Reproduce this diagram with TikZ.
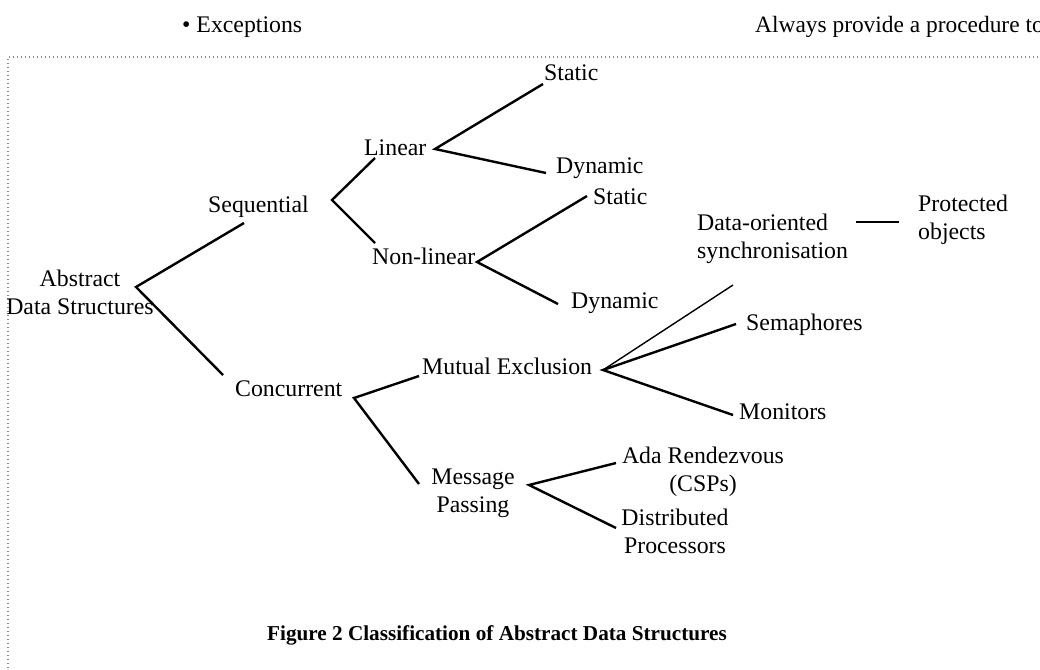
\documentclass[tikz,border=0pt]{standalone}
\usepackage{fontspec}
\setmainfont{Liberation Serif}
\usepackage{xcolor}

\begin{document}
\begin{tikzpicture}[x=1pt,y=-1pt,
	lbl/.style={inner sep=0pt,font=\fontsize{23.8}{28}\selectfont},
	branch/.style={line width=2.4pt},
	thinbranch/.style={line width=1.4pt}]
	\useasboundingbox (0,0) rectangle (1040,669);
	
	% frame and text around the figure
	\draw[black!45,line width=1.2pt,dash pattern=on 1.3pt off 2.7pt] (8,700) -- (8,57) -- (1060,57);
	\node[lbl,anchor=base west] (exc) at (182,33) {\textbullet\ Exceptions};
	\node[lbl,anchor=base west,font=\fontsize{23.4}{28}\selectfont] (always) at (755,33) {Always provide a procedure to};
	
	% labels (base of a two-line label = its last line)
	\node[lbl,anchor=base,align=center] (ads) at (80,314) {Abstract\\Data Structures};
	\node[lbl,anchor=base west] (seq) at (208,212) {Sequential};
	\node[lbl,anchor=base west] (conc) at (235,396) {Concurrent};
	\node[lbl,anchor=base west] (lin) at (364,155) {Linear};
	\node[lbl,anchor=base west] (nonlin) at (372,264) {Non-linear};
	\node[lbl,anchor=base west] (stat1) at (544,80) {Static};
	\node[lbl,anchor=base west] (dyn1) at (556,173) {Dynamic};
	\node[lbl,anchor=base west] (stat2) at (593,204) {Static};
	\node[lbl,anchor=base west] (dyn2) at (571,308) {Dynamic};
	\node[lbl,anchor=base west] (mutex) at (422,374) {Mutual Exclusion};
	\node[lbl,anchor=base west,align=left] (datasync) at (697,258) {Data-oriented\\synchronisation};
	\node[lbl,anchor=base west,align=left] (prot) at (918,239) {Protected\\objects};
	\node[lbl,anchor=base west] (sema) at (746,330) {Semaphores};
	\node[lbl,anchor=base west] (mon) at (739,419) {Monitors};
	\node[lbl,anchor=base,align=center] (msg) at (473,512) {Message\\Passing};
	\node[lbl,anchor=base,align=center] (ada) at (703,491) {Ada Rendezvous\\(CSPs)};
	\node[lbl,anchor=base,align=center] (dist) at (675,553) {Distributed\\Processors};
	
	\node[inner sep=0pt,anchor=base,font=\bfseries\fontsize{21.2}{24}\selectfont] (cap) at (497,640) {Figure 2 Classification of Abstract Data Structures};
	
	% forks and branch ends
	\coordinate (adsfork) at (136,287);
	\coordinate (seqend) at (244,223);
	\coordinate (concend) at (223,375);
	\coordinate (seqfork) at (332,200);
	\coordinate (linend) at (375,158);
	\coordinate (nonlinend) at (375,243);
	\coordinate (linfork) at (435,149);
	\coordinate (stat1end) at (543,84);
	\coordinate (dyn1end) at (546,173);
	\coordinate (nonlinfork) at (477,262);
	\coordinate (stat2end) at (587,196);
	\coordinate (dyn2end) at (558,304);
	\coordinate (concfork) at (354,398);
	\coordinate (mutexend) at (419,376);
	\coordinate (msgend) at (419,484);
	\coordinate (mutexfork) at (603,370);
	\coordinate (datasyncend) at (733,285);
	\coordinate (semaend) at (736,324);
	\coordinate (monend) at (733,415);
	\coordinate (msgfork) at (529,485);
	\coordinate (adaend) at (616,463);
	\coordinate (distend) at (616,528);
	\coordinate (protstart) at (856,222);
	\coordinate (protend) at (899,222);
	
	\draw[branch] (seqend) -- (adsfork) -- (concend);
	\draw[branch] (linend) -- (seqfork) -- (nonlinend);
	\draw[branch] (stat1end) -- (linfork) -- (dyn1end);
	\draw[branch] (stat2end) -- (nonlinfork) -- (dyn2end);
	\draw[branch] (mutexend) -- (concfork) -- (msgend);
	\draw[branch] (semaend) -- (mutexfork) -- (monend);
	\draw[thinbranch] (mutexfork) -- (datasyncend);
	\draw[branch] (adaend) -- (msgfork) -- (distend);
	\draw[branch] (protstart) -- (protend);
\end{tikzpicture}
\end{document}
